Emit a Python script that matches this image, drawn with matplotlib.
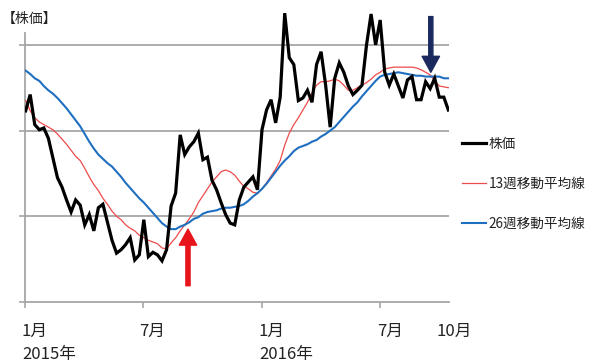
import matplotlib
matplotlib.use("Agg")
import matplotlib.pyplot as plt
import matplotlib.dates as mdates
import matplotlib.transforms as mtransforms
import pandas as pd
import numpy as np

plt.rcParams['font.family'] = ['Noto Sans CJK JP', 'DejaVu Sans']

# weekly data, Jan 2015 - Oct 2016
dates = pd.date_range('2015-01-02', periods=94, freq='7D')

price = [223, 242, 207, 201, 203, 191, 168, 145, 134, 119,
         105, 119, 113, 90, 102, 83, 110, 114, 93, 72,
         57, 61, 67, 75, 49, 55, 96, 53, 58, 55,
         48, 61, 112, 127, 195, 172, 181, 187, 197, 166,
         169, 142, 131, 116, 102, 92, 90, 119, 134, 140,
         146, 131, 201, 224, 236, 209, 239, 337, 285, 277,
         235, 238, 247, 233, 277, 292, 253, 204, 261, 279,
         268, 252, 242, 247, 253, 300, 336, 300, 329, 268,
         253, 266, 252, 238, 259, 263, 236, 236, 257, 249,
         261, 239, 239, 224]

ma13 = [235, 223, 215, 210, 207, 204, 201, 196, 190, 184,
        177, 170, 165, 156, 146, 137, 130, 121, 114, 106,
        100, 96, 90, 86, 83, 78, 75, 72, 70, 68,
        63, 62, 69, 75, 83, 90, 97, 105, 116, 124,
        132, 140, 146, 152, 154, 152, 148, 141, 135, 132,
        128, 127, 132, 139, 147, 155, 165, 183, 197, 207,
        215, 224, 233, 244, 253, 257, 257, 258, 260, 258,
        253, 247, 247, 250, 253, 256, 260, 265, 268, 272,
        273, 274, 274, 274, 274, 274, 273, 271, 268, 265,
        258, 252, 251, 250]

ma26 = [270, 266, 261, 258, 252, 247, 243, 238, 232, 226,
        219, 212, 205, 196, 187, 179, 172, 167, 162, 158,
        152, 146, 139, 133, 127, 121, 116, 110, 104, 98,
        92, 88, 85, 85, 88, 90, 93, 97, 99, 103,
        105, 106, 107, 109, 110, 110, 111, 112, 114, 118,
        123, 127, 132, 138, 145, 152, 159, 165, 170, 176,
        180, 182, 184, 187, 189, 193, 196, 200, 204, 210,
        216, 222, 228, 233, 240, 246, 252, 258, 263, 265,
        266, 267, 268, 267, 266, 265, 264, 264, 263, 263,
        263, 263, 261, 261]

tick_dates = ['2015-01-01', '2015-07-01', '2016-01-01', '2016-07-01', '2016-10-01']
tick_labels = ['1月\n2015年', '7月', '1月\n2016年', '7月', '10月']
grid_values = [100, 200, 300]
series_labels = ['株価', '13週移動平均線', '26週移動平均線']

# annotation arrows (date, tail value, head value)
buy_arrow = ('2015-09-09', 19, 85)
sell_arrow = ('2016-09-17', 333, 268)

W, H = 600, 363
fig = plt.figure(figsize=(W / 100, H / 100), dpi=100)
ax = fig.add_axes([25 / W, 61 / H, (449 - 25) / W, 300 / H])

grid_col = '#A6A6A6'
for g in grid_values:
    ax.axhline(g, color=grid_col, lw=1.3, zorder=1)

l1, = ax.plot(dates, price, color='black', lw=2.3, zorder=4, solid_joinstyle='miter')
l2, = ax.plot(dates, ma13, color='#EE4B4B', lw=0.9, zorder=3)
l3, = ax.plot(dates, ma26, color='#1F6FC0', lw=1.5, zorder=3)

ax.set_xlim(pd.Timestamp('2015-01-01'), pd.Timestamp('2016-10-15'))
ax.set_ylim(0, 350)

for s in ['top', 'right']:
    ax.spines[s].set_visible(False)
ax.spines['left'].set_color(grid_col)
ax.spines['bottom'].set_color(grid_col)
ax.spines['left'].set_linewidth(1.3)
ax.spines['bottom'].set_linewidth(1.3)
ax.spines['left'].set_bounds(0, 314)

ax.set_yticks([0] + grid_values)
ax.set_yticklabels([])
ax.tick_params(axis='y', length=4, color=grid_col, width=1.2)

ax.set_xticks([mdates.date2num(pd.Timestamp(d)) for d in tick_dates])
ax.set_xticklabels(tick_labels, fontsize=12, ha='left', color='#222222', linespacing=1.5)
ax.tick_params(axis='x', length=4, color=grid_col, width=1.2, pad=11)
ax.xaxis.get_major_ticks()[-1].tick1line.set_visible(False)
shift = mtransforms.ScaledTranslation(-3 / 100, 0, fig.dpi_scale_trans)
for lab in ax.get_xticklabels():
    lab.set_transform(lab.get_transform() + shift)

fig.text(2 / W, 1 - 18.5 / H, '【株価】', fontsize=10, va='center', ha='left', color='#222222')

def arrow(spec, color):
    d, tail, head = spec
    x = mdates.date2num(pd.Timestamp(d))
    ax.annotate('', xy=(x, head), xytext=(x, tail),
                arrowprops=dict(color=color, width=3, headwidth=12.5, headlength=11.5, shrink=0),
                zorder=6)

arrow(buy_arrow, '#E8141B')
arrow(sell_arrow, '#1B2A5E')

leg = fig.legend([l1, l2, l3], series_labels, loc='center left',
                 bbox_to_anchor=(462 / W, 1 - 183.5 / H), frameon=False,
                 borderpad=0, borderaxespad=0,
                 fontsize=9.8, handlelength=1.75, handletextpad=0.2,
                 labelspacing=1.9, labelcolor='#222222')

fig.savefig('out.png', dpi=100)
